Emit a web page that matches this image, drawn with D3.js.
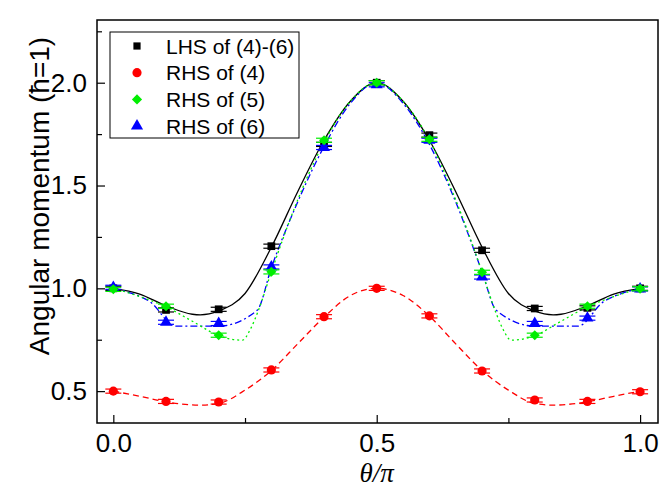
<!DOCTYPE html>
<html>
<head>
<meta charset="utf-8">
<script src="https://cdn.jsdelivr.net/npm/d3@7"></script>
<style>
  body { margin: 0; background: #fff; }
  svg { display: block; }
  text { font-family: "Liberation Sans", Arial, sans-serif; }
</style>
</head>
<body>
<div id="chart"></div>
<script>
// measured points (theta / pi)
var theta = [0, 0.1, 0.2, 0.3, 0.4, 0.5, 0.6, 0.7, 0.8, 0.9, 1.0];
var lhs = [1.0, 0.895, 0.898, 1.205, 1.70, 2.0, 1.745, 1.185, 0.902, 0.905, 1.0];
var rhs4 = [0.50, 0.45, 0.447, 0.603, 0.862, 1.0, 0.866, 0.598, 0.457, 0.45, 0.497];
var rhs5 = [0.995, 0.913, 0.772, 1.08, 1.72, 2.0, 1.725, 1.078, 0.772, 0.913, 0.998];
var rhs6 = [1.005, 0.835, 0.829, 1.104, 1.685, 1.99, 1.72, 1.055, 0.829, 0.855, 0.997];
var errBar = 0.01;

// theory curves
var lhsCurveX = [0, 0.05, 0.1, 0.15, 0.165, 0.2, 0.25, 0.3, 0.35, 0.4, 0.45, 0.5, 0.55, 0.6, 0.65, 0.7, 0.75, 0.8, 0.835, 0.85, 0.9, 0.95, 1.0];
var lhsCurveY = [1.0, 0.972, 0.915, 0.874, 0.871, 0.89, 0.975, 1.2, 1.47, 1.72, 1.91, 2.0, 1.91, 1.72, 1.47, 1.2, 0.975, 0.89, 0.871, 0.874, 0.915, 0.972, 1.0];

var rhs4CurveX = [0, 0.05, 0.1, 0.165, 0.2, 0.25, 0.3, 0.35, 0.4, 0.45, 0.5, 0.55, 0.6, 0.65, 0.7, 0.75, 0.8, 0.835, 0.9, 0.95, 1.0];
var rhs4CurveY = [0.50, 0.475, 0.448, 0.432, 0.44, 0.505, 0.60, 0.73, 0.86, 0.965, 1.0, 0.965, 0.865, 0.73, 0.60, 0.505, 0.44, 0.432, 0.448, 0.475, 0.50];

var rhs5CurveX = [0, 0.05, 0.1, 0.15, 0.2, 0.225, 0.245, 0.26, 0.275, 0.3, 0.35, 0.4, 0.45, 0.5, 0.55, 0.6, 0.65, 0.7, 0.725, 0.74, 0.755, 0.775, 0.8, 0.85, 0.9, 0.95, 1.0];
var rhs5CurveY = [1.0, 0.96, 0.91, 0.84, 0.77, 0.752, 0.748, 0.80, 0.89, 1.08, 1.43, 1.71, 1.91, 2.0, 1.91, 1.72, 1.43, 1.08, 0.89, 0.80, 0.748, 0.752, 0.77, 0.84, 0.91, 0.96, 1.0];

var rhs6CurveX = [0, 0.035, 0.07, 0.118, 0.2, 0.273, 0.3, 0.35, 0.4, 0.45, 0.5, 0.55, 0.6, 0.65, 0.7, 0.727, 0.8, 0.882, 0.93, 0.965, 1.0];
var rhs6CurveY = [1.0, 0.975, 0.934, 0.816, 0.816, 0.893, 1.10, 1.42, 1.69, 1.90, 2.0, 1.90, 1.70, 1.42, 1.08, 0.893, 0.816, 0.816, 0.934, 0.975, 1.0];

var xTicks = [0, 0.5, 1.0];
var xMinor = [0.25, 0.75];
var yTicks = [0.5, 1.0, 1.5, 2.0];
var yMinor = [0.75, 1.25, 1.75, 2.25];
var legendLabels = ["LHS of (4)-(6)", "RHS of (4)", "RHS of (5)", "RHS of (6)"];

var W = 672, H = 488;
var margin = {top: 20, right: 14, bottom: 65, left: 97};
var width = W - margin.left - margin.right,
    height = H - margin.top - margin.bottom;

var x = d3.scaleLinear().domain([-0.031, 1.034]).range([0, width]);
var y = d3.scaleLinear().domain([0.345, 2.305]).range([height, 0]);

var svg = d3.select("#chart").append("svg")
    .attr("width", W)
    .attr("height", H);
var g = svg.append("g")
    .attr("transform", "translate(" + margin.left + "," + margin.top + ")");

// axes, ticks inside
g.append("g")
    .attr("transform", "translate(0," + height + ")")
    .call(d3.axisBottom(x).tickValues(xTicks).tickSize(-8).tickPadding(11).tickFormat(d3.format(".1f")));
g.append("g")
    .attr("transform", "translate(0," + height + ")")
    .call(d3.axisBottom(x).tickValues(xMinor).tickSize(-5).tickFormat(""));
g.append("g")
    .call(d3.axisLeft(y).tickValues(yTicks).tickSize(-8).tickPadding(10).tickFormat(d3.format(".1f")));
g.append("g")
    .call(d3.axisLeft(y).tickValues(yMinor).tickSize(-5).tickFormat(""));

g.selectAll(".domain").remove();
g.selectAll(".tick line").attr("stroke", "#000").attr("stroke-width", 1.2);
g.selectAll(".tick text")
    .attr("fill", "#000")
    .style("font-size", "26px")
    .style("font-family", "\"Liberation Sans\", Arial, sans-serif");

// frame
g.append("rect")
    .attr("width", width)
    .attr("height", height)
    .attr("fill", "none")
    .attr("stroke", "#000")
    .attr("stroke-width", 1.5);

// titles
svg.append("text")
    .attr("transform", "translate(49," + (margin.top + 176) + ") rotate(-90)")
    .attr("text-anchor", "middle")
    .style("font-size", "28px")
    .text("Angular momentum (\u0127=1)");

svg.append("text")
    .attr("x", margin.left + x(0.5))
    .attr("y", 482)
    .attr("text-anchor", "middle")
    .style("font-family", "\"Liberation Serif\", \"Times New Roman\", serif")
    .style("font-style", "italic")
    .style("font-size", "27px")
    .text("\u03b8/\u03c0");

// curves
function drawCurve(xs, ys, color, dash) {
    var pts = xs.map(function (d, i) { return [d, ys[i]]; });
    g.append("path")
        .datum(pts)
        .attr("fill", "none")
        .attr("stroke", color)
        .attr("stroke-width", 1.3)
        .attr("stroke-dasharray", dash)
        .attr("d", d3.line()
            .x(function (d) { return x(d[0]); })
            .y(function (d) { return y(d[1]); })
            .curve(d3.curveMonotoneX));
}

drawCurve(lhsCurveX, lhsCurveY, "#000", null);
drawCurve(rhs4CurveX, rhs4CurveY, "#ff0000", "6,4");
drawCurve(rhs6CurveX, rhs6CurveY, "#0000ff", "7,3,2,3");
drawCurve(rhs5CurveX, rhs5CurveY, "#00ee00", "2,3");

// points with small error bars
function drawPoints(vals, color, sym, size, rot) {
    var grp = g.append("g");
    vals.forEach(function (v, i) {
        var cx = x(theta[i]);
        var e = grp.append("g").attr("stroke", color).attr("stroke-width", 1.2);
        e.append("line").attr("x1", cx).attr("x2", cx).attr("y1", y(v - errBar)).attr("y2", y(v + errBar));
        e.append("line").attr("x1", cx - 8).attr("x2", cx + 8).attr("y1", y(v - errBar)).attr("y2", y(v - errBar));
        e.append("line").attr("x1", cx - 8).attr("x2", cx + 8).attr("y1", y(v + errBar)).attr("y2", y(v + errBar));
    });
    grp.selectAll("path.pt")
        .data(vals)
        .enter().append("path")
        .attr("class", "pt")
        .attr("d", d3.symbol().type(sym).size(size))
        .attr("transform", function (d, i) {
            return "translate(" + x(theta[i]) + "," + y(d) + ") rotate(" + (rot || 0) + ")";
        })
        .attr("fill", color);
}

drawPoints(lhs, "#000", d3.symbolSquare, 60);
drawPoints(rhs4, "#ff0000", d3.symbolCircle, 66);
drawPoints(rhs6, "#0000ff", d3.symbolTriangle, 62);
drawPoints(rhs5, "#00ee00", d3.symbolSquare, 50, 45);

// legend
var legColors = ["#000", "#ff0000", "#00ee00", "#0000ff"];
var legSyms = [d3.symbolSquare, d3.symbolCircle, d3.symbolSquare, d3.symbolTriangle];
var legSizes = [52, 66, 52, 64];
var legRot = [0, 0, 45, 0];
var leg = svg.append("g");
leg.append("rect")
    .attr("x", 110).attr("y", 32)
    .attr("width", 189).attr("height", 106)
    .attr("fill", "#fff")
    .attr("stroke", "#000")
    .attr("stroke-width", 1);
legendLabels.forEach(function (lab, i) {
    var ly = 46 + i * 26.7;
    leg.append("path")
        .attr("d", d3.symbol().type(legSyms[i]).size(legSizes[i]))
        .attr("transform", "translate(137," + ly + ") rotate(" + legRot[i] + ")")
        .attr("fill", legColors[i]);
    leg.append("text")
        .attr("x", 166)
        .attr("y", ly + 7.5)
        .style("font-size", "21px")
        .text(lab);
});
</script>
</body>
</html>
